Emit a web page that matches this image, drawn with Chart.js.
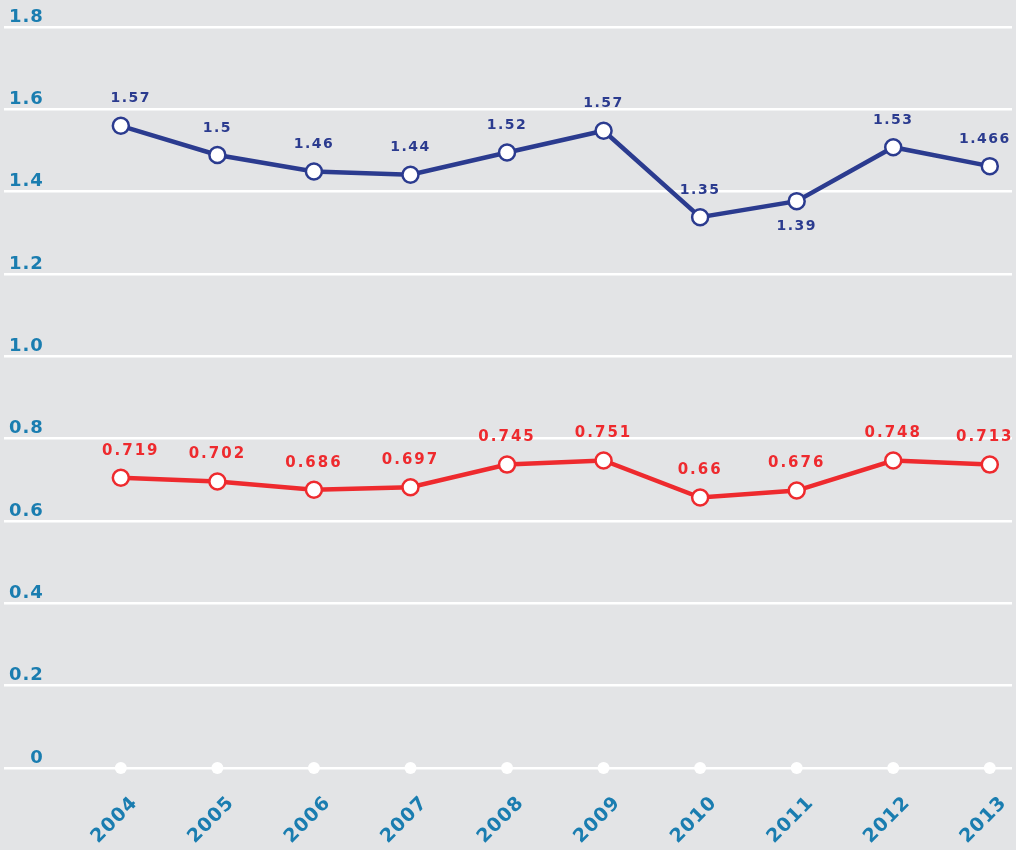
<!DOCTYPE html>
<html>
<head>
<meta charset="utf-8">
<script src="https://cdn.jsdelivr.net/npm/chart.js@4.4.1/dist/chart.umd.min.js"></script>
<style>
    html, body { margin: 0; padding: 0; background: #e3e4e6; overflow: hidden; }
    #wrap { width: 1016px; height: 850px; }
</style>
</head>
<body>
<div id="wrap"><canvas id="graphique"></canvas></div>
<script>
// données
const annees = [2004, 2005, 2006, 2007, 2008, 2009, 2010, 2011, 2012, 2013];
const serieBleue = [1.56, 1.489, 1.449, 1.441, 1.495, 1.548, 1.338, 1.377, 1.508, 1.462];
const etiquettesBleues = ['1.57', '1.5', '1.46', '1.44', '1.52', '1.57', '1.35', '1.39', '1.53', '1.466'];
const serieRouge = [0.705, 0.696, 0.676, 0.682, 0.737, 0.747, 0.657, 0.674, 0.747, 0.737];
const etiquettesRouges = ['0.719', '0.702', '0.686', '0.697', '0.745', '0.751', '0.66', '0.676', '0.748', '0.713'];
const ticksY = [0, 0.2, 0.4, 0.6, 0.8, 1.0, 1.2, 1.4, 1.6, 1.8];

const bleu = '#2b3b8f';
const rouge = '#ee2a2e';
const bleuAxe = '#1a7db0';
const police = "'DejaVu Sans', 'Open Sans', sans-serif";

// étiquettes de valeur au-dessus des points (1.39 en dessous)
const etiquettesPlugin = {
    id: 'etiquettes',
    afterDatasetsDraw(chart) {
        const ctx = chart.ctx;
        const series = [
            { index: 0, textes: etiquettesBleues, couleur: bleu, taille: 14, espace: '1.5px' },
            { index: 1, textes: etiquettesRouges, couleur: rouge, taille: 15, espace: '2px' }
        ];
        ctx.save();
        ctx.textAlign = 'center';
        ctx.textBaseline = 'middle';
        series.forEach(s => {
            const meta = chart.getDatasetMeta(s.index);
            ctx.fillStyle = s.couleur;
            ctx.font = '700 ' + s.taille + 'px ' + police;
            ctx.letterSpacing = s.espace;
            meta.data.forEach((pt, i) => {
                const dessous = s.index === 0 && annees[i] === 2011;
                let dx = 0;
                if (i === 0) dx = 10;
                if (i === annees.length - 1) dx = -5;
                ctx.fillText(s.textes[i], pt.x + dx, pt.y + (dessous ? 25 : -27));
            });
        });
        ctx.restore();
    }
};

const espacementPlugin = {
    id: 'espacement',
    beforeDraw(chart) {
        chart.ctx.letterSpacing = '1px';
    }
};

const ctx = document.getElementById('graphique').getContext('2d');
new Chart(ctx, {
    type: 'line',
    data: {
        datasets: [
            {
                label: 'bleu',
                data: annees.map((a, i) => ({ x: a, y: serieBleue[i] })),
                borderColor: bleu,
                borderWidth: 4.5,
                pointRadius: 8,
                pointBorderWidth: 2.5,
                pointBackgroundColor: '#ffffff',
                pointBorderColor: bleu,
                tension: 0
            },
            {
                label: 'rouge',
                data: annees.map((a, i) => ({ x: a, y: serieRouge[i] })),
                borderColor: rouge,
                borderWidth: 4.5,
                pointRadius: 8,
                pointBorderWidth: 2.5,
                pointBackgroundColor: '#ffffff',
                pointBorderColor: rouge,
                tension: 0
            },
            {
                label: 'repères',
                data: annees.map(a => ({ x: a, y: 0 })),
                showLine: false,
                pointRadius: 6,
                pointBorderWidth: 0,
                pointBackgroundColor: '#ffffff',
                clip: false
            }
        ]
    },
    options: {
        responsive: true,
        maintainAspectRatio: false,
        animation: false,
        layout: { autoPadding: false, padding: { top: 27, left: 4, right: 4, bottom: 0 } },
        plugins: {
            legend: { display: false },
            tooltip: { enabled: false }
        },
        scales: {
            x: {
                type: 'linear',
                min: 2002.79,
                max: 2013.23,
                afterBuildTicks: axis => { axis.ticks = annees.map(a => ({ value: a })); },
                afterFit: axis => {
                    axis.height = 82;
                    axis.paddingLeft = 0;
                    axis.paddingRight = 0;
                },
                grid: { display: false },
                border: { display: false },
                ticks: {
                    color: bleuAxe,
                    font: { family: police, size: 19, weight: '700' },
                    minRotation: 45,
                    maxRotation: 45,
                    autoSkip: false,
                    padding: 16,
                    labelOffset: 14,
                    callback: v => String(v)
                }
            },
            y: {
                min: 0,
                max: 1.8,
                afterBuildTicks: axis => { axis.ticks = ticksY.map(v => ({ value: v })); },
                afterFit: axis => { axis.width = 0; },
                grid: { color: '#ffffff', lineWidth: 2.5, drawTicks: false },
                border: { display: false },
                ticks: {
                    mirror: true,
                    crossAlign: 'far',
                    padding: 8,
                    labelOffset: -10,
                    color: bleuAxe,
                    font: { family: police, size: 18, weight: '700' },
                    callback: v => v === 0 ? '0' : v.toFixed(1)
                }
            }
        }
    },
    plugins: [espacementPlugin, etiquettesPlugin]
});
</script>
</body>
</html>
